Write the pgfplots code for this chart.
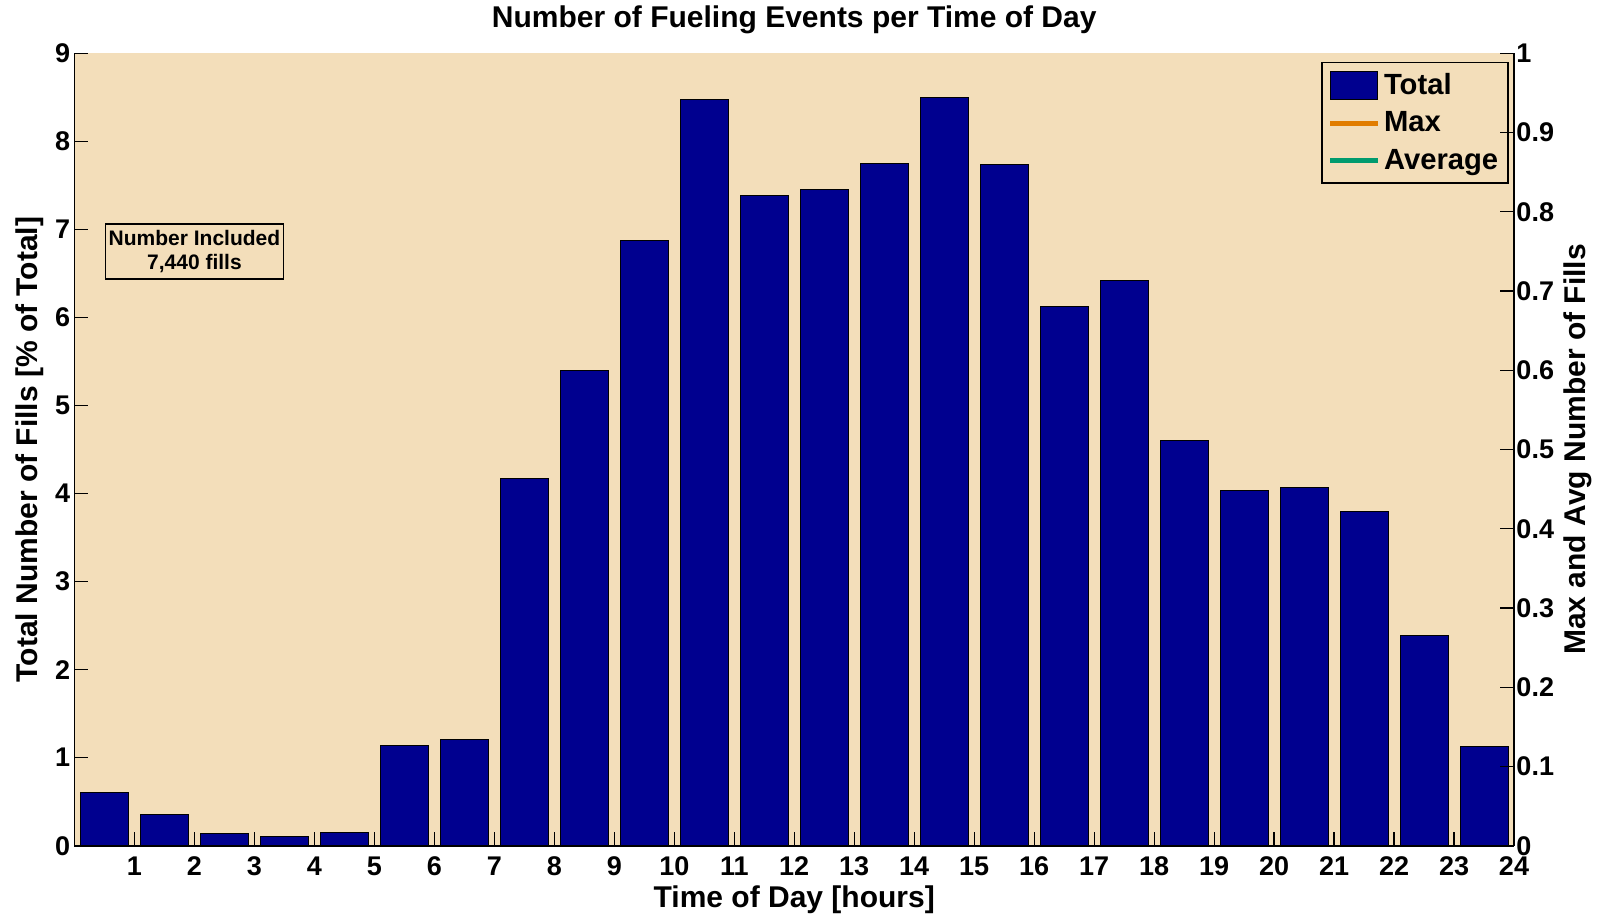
\documentclass[border=0pt]{standalone}
\usepackage{pgfplots}
\pgfplotsset{compat=1.18}
\usepackage{fontspec}
\setmainfont{Liberation Sans}
\definecolor{bgtan}{RGB}{243,222,186}
\definecolor{barblue}{RGB}{0,0,143}
\definecolor{maxorange}{RGB}{225,125,0}
\definecolor{avggreen}{RGB}{0,155,110}

\pgfplotstableread{
x y
0.5 0.60
1.5 0.35
2.5 0.14
3.5 0.11
4.5 0.15
5.5 1.14
6.5 1.21
7.5 4.17
8.5 5.40
9.5 6.87
10.5 8.47
11.5 7.38
12.5 7.45
13.5 7.75
14.5 8.50
15.5 7.74
16.5 6.12
17.5 6.42
18.5 4.60
19.5 4.03
20.5 4.07
21.5 3.80
22.5 2.39
23.5 1.13
}\totaldata

\begin{document}
\begin{tikzpicture}
\useasboundingbox (-37.25pt,-35.65pt) rectangle (766.25pt,422.85pt);
\pgfplotsset{
  every axis/.append style={
    scale only axis, width=719.75pt, height=396.2pt, xmin=0, xmax=24,
    tick align=inside, major tick length=7pt,
    tick style={black, line width=0.6pt},
    axis line style={-, line width=0.8pt, black},
    tick label style={font=\bfseries\fontsize{13.5}{15}\selectfont},
    /pgf/number format/assume math mode=true,
  }
}
\begin{axis}[at={(0,0)}, anchor=south west,
  axis x line*=bottom, axis y line*=left,
  ymin=0, ymax=9, ytick={0,1,2,3,4,5,6,7,8,9},
  xtick={1,2,3,4,5,6,7,8,9,10,11,12,13,14,15,16,17,18,19,20,21,22,23,24},
  xticklabel style={inner sep=1pt, yshift=-4.5pt},
  yticklabel style={xshift=1.3pt},
  axis background/.style={fill=bgtan},
  title={Number of Fueling Events per Time of Day},
  every axis title/.style={at={(axis description cs:0.5,1)}, anchor=center, yshift=16.9pt,
    font=\bfseries\fontsize{15}{17}\selectfont},
  xlabel={Time of Day [hours]},
  every axis x label/.style={at={(axis description cs:0.5,0)}, anchor=center, yshift=-27pt,
    inner sep=0.5pt, font=\bfseries\fontsize{15}{17}\selectfont},
  ylabel={Total Number of Fills [\% of Total]},
  every axis y label/.style={at={(axis description cs:-0.03126,0.5)}, anchor=center, rotate=90,
    font=\bfseries\fontsize{15}{17}\selectfont},
  legend style={at={(axis description cs:1,1)}, anchor=north east, xshift=-2.5pt, yshift=-4.2pt,
    draw=black, fill=bgtan, line width=0.8pt, font=\bfseries\fontsize{14.6}{17}\selectfont,
    inner xsep=3pt, inner ysep=3.5pt, row sep=3.1pt},
  legend cell align=left,
]
\addplot[ybar, bar width=0.8, bar shift=0pt, fill=barblue, draw=black, line width=0.5pt,
  legend image code/.code={\draw[fill=barblue,draw=black,line width=0.5pt] (0pt,-6.85pt) rectangle (23.6pt,6.85pt);}]
  table[x=x,y=y] {\totaldata};
\addlegendentry{Total}
\addlegendimage{maxorange, line width=2.5pt, legend image code/.code={\draw[maxorange,line width=2.5pt] (0pt,0pt) -- (23.6pt,0pt);}}
\addlegendentry{Max}
\addlegendimage{avggreen, line width=2.5pt, legend image code/.code={\draw[avggreen,line width=2.5pt] (0pt,0pt) -- (23.6pt,0pt);}}
\addlegendentry{Average}
\node[draw=black, line width=0.6pt, fill=bgtan, align=center, font=\bfseries\fontsize{10.5}{12}\selectfont,
  minimum width=89pt, minimum height=27.5pt, inner sep=1pt] at (axis cs:2.0,6.75) {Number Included\\7,440 fills};
\end{axis}
\begin{axis}[at={(0,0)}, anchor=south west,
  axis x line=none, axis y line*=right,
  ymin=0, ymax=1, ytick={0,0.1,0.2,0.3,0.4,0.5,0.6,0.7,0.8,0.9,1},
  yticklabel style={xshift=-2.3pt},
  ylabel={Max and Avg Number of Fills},
  every axis y label/.style={at={(axis description cs:1.04446,0.5)}, anchor=center, rotate=90,
    font=\bfseries\fontsize{15}{17}\selectfont},
]
\end{axis}
\end{tikzpicture}
\end{document}
